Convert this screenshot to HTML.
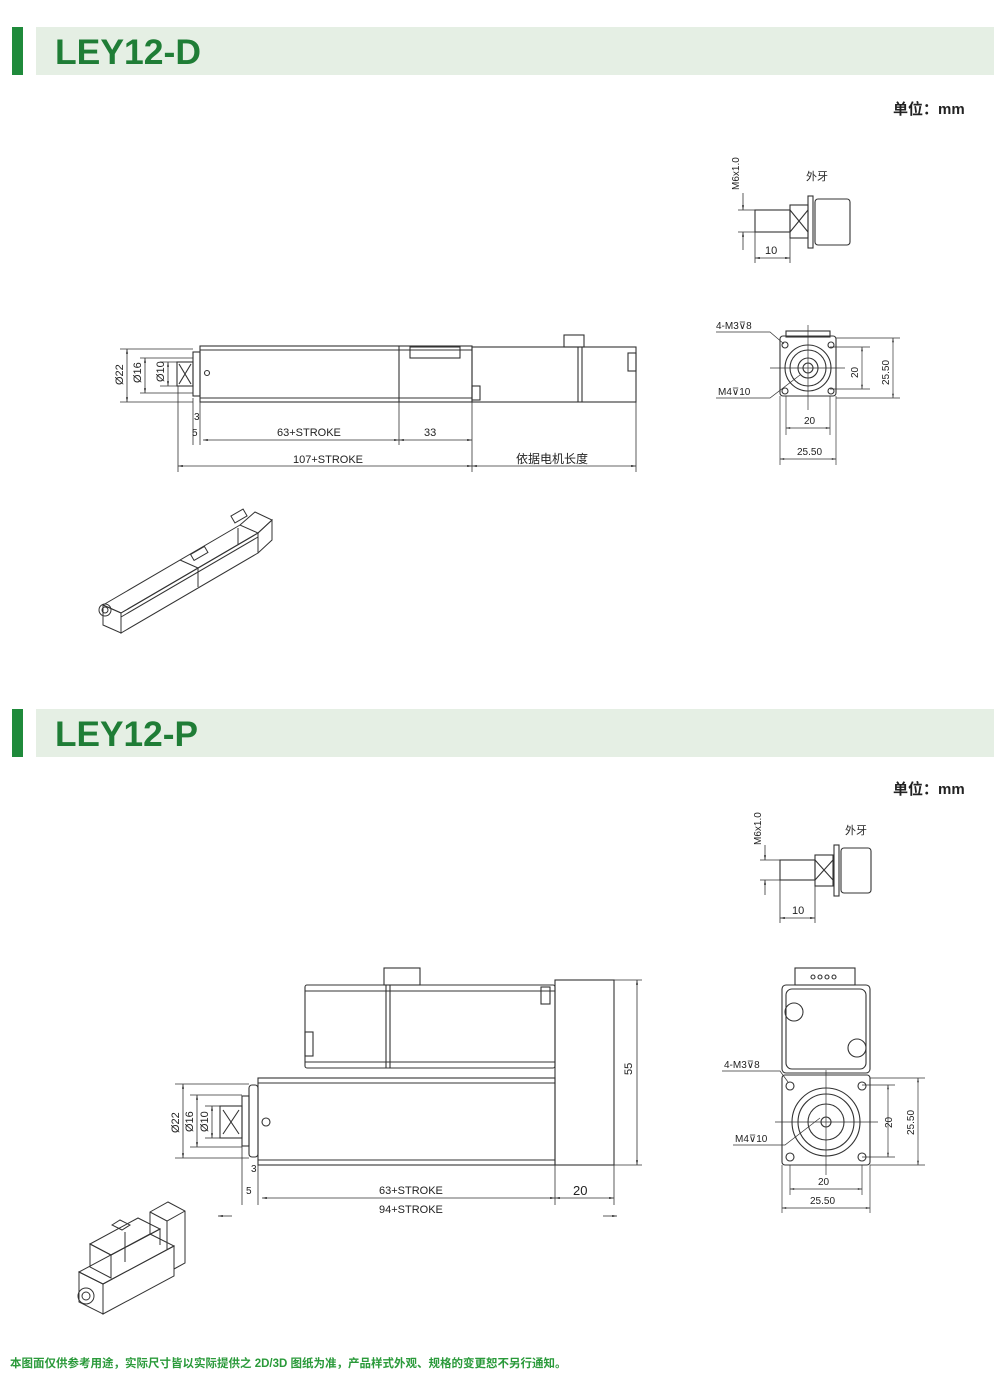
<!DOCTYPE html><html><head><meta charset="utf-8"><style>body{margin:0;background:#fff}svg{display:block}text{font-family:"Liberation Sans","Noto Sans CJK SC",sans-serif}</style></head><body>
<svg width="1000" height="1391" viewBox="0 0 1000 1391" xmlns="http://www.w3.org/2000/svg">
<defs><marker id="a" viewBox="0 0 10 10" refX="10" refY="5" markerWidth="8" markerHeight="6" orient="auto-start-reverse"><path d="M0,3L10,5L0,7z" fill="#222"/></marker></defs>
<rect x="12" y="27" width="11" height="48" fill="#1f8a3b"/><rect x="36" y="27" width="958" height="48" fill="#e5efe4"/>
<text x="55" y="64" font-size="35" font-weight="bold" fill="#1f7d36" textLength="146" lengthAdjust="spacingAndGlyphs">LEY12-D</text>
<rect x="12" y="709" width="11" height="48" fill="#1f8a3b"/><rect x="36" y="709" width="958" height="48" fill="#e5efe4"/>
<text x="55" y="746" font-size="35" font-weight="bold" fill="#1f7d36" textLength="143" lengthAdjust="spacingAndGlyphs">LEY12-P</text>
<text x="893" y="114" font-size="15" font-weight="bold" fill="#222">单位：mm</text>
<text x="893" y="794" font-size="15" font-weight="bold" fill="#222">单位：mm</text>
<text x="10" y="1367" font-size="11.5" font-weight="bold" fill="#2a9a3a">本图面仅供参考用途，实际尺寸皆以实际提供之 2D/3D 图纸为准，产品样式外观、规格的变更恕不另行通知。</text>
<g fill="none" stroke="#333" stroke-width="1.1" font-size="11">
<!-- D main -->
<rect x="200" y="346" width="272" height="56"/><line x1="200" y1="350" x2="472" y2="350"/><line x1="200" y1="398" x2="472" y2="398"/>
<line x1="399" y1="346" x2="399" y2="402"/><rect x="410" y="347" width="50" height="11"/><circle cx="207" cy="373" r="2.5"/>
<rect x="472" y="347" width="164" height="55"/><line x1="578" y1="347" x2="578" y2="402"/><line x1="582" y1="347" x2="582" y2="402"/>
<rect x="564" y="335" width="20" height="12"/><rect x="472" y="386" width="8" height="14"/><rect x="628" y="353" width="8" height="18"/>
<rect x="193" y="352" width="7" height="44"/><rect x="177" y="362" width="16" height="24"/><path d="M179,364L191,384M191,364L179,384"/>
<g stroke-width=".8"><line x1="120" y1="349" x2="193" y2="349"/><line x1="120" y1="402" x2="193" y2="402"/><line x1="140" y1="358" x2="193" y2="358"/><line x1="140" y1="393" x2="193" y2="393"/><line x1="160" y1="362" x2="177" y2="362"/><line x1="160" y1="386" x2="177" y2="386"/>
<line x1="127" y1="349" x2="127" y2="402" marker-start="url(#a)" marker-end="url(#a)"/><line x1="145" y1="358" x2="145" y2="393" marker-start="url(#a)" marker-end="url(#a)"/><line x1="168" y1="362" x2="168" y2="386" marker-start="url(#a)" marker-end="url(#a)"/>
<line x1="178" y1="386" x2="178" y2="472"/><line x1="193" y1="398" x2="193" y2="445"/><line x1="200" y1="402" x2="200" y2="445"/><line x1="399" y1="402" x2="399" y2="445"/><line x1="472" y1="402" x2="472" y2="472"/><line x1="636" y1="402" x2="636" y2="472"/>
<line x1="203" y1="440" x2="399" y2="440" marker-start="url(#a)" marker-end="url(#a)"/><line x1="399" y1="440" x2="472" y2="440" marker-start="url(#a)" marker-end="url(#a)"/>
<line x1="178" y1="466" x2="472" y2="466" marker-start="url(#a)" marker-end="url(#a)"/><line x1="472" y1="466" x2="636" y2="466" marker-start="url(#a)" marker-end="url(#a)"/></g>
<g fill="#222" stroke="none"><text x="277" y="436">63+STROKE</text><text x="424" y="436">33</text><text x="293" y="463">107+STROKE</text><text x="516" y="463" font-size="12">依据电机长度</text><text x="194" y="420" font-size="10">3</text><text x="192" y="436" font-size="10">5</text>
<text transform="translate(123,385) rotate(-90)">Ø22</text><text transform="translate(141,383) rotate(-90)">Ø16</text><text transform="translate(164,382) rotate(-90)">Ø10</text></g>
<!-- D detail -->
<rect x="755" y="210" width="35" height="22"/><rect x="790" y="205" width="18" height="33"/><path d="M790,210L808,232M808,210L790,232"/><rect x="808" y="196" width="5" height="52"/><rect x="815" y="199" width="35" height="46" rx="3"/>
<g stroke-width=".8"><line x1="738" y1="210" x2="755" y2="210"/><line x1="738" y1="232" x2="755" y2="232"/><line x1="743" y1="193" x2="743" y2="210" marker-end="url(#a)"/><line x1="743" y1="250" x2="743" y2="232" marker-end="url(#a)"/><line x1="755" y1="232" x2="755" y2="263"/><line x1="790" y1="238" x2="790" y2="263"/><line x1="755" y1="258" x2="790" y2="258" marker-start="url(#a)" marker-end="url(#a)"/></g>
<g fill="#222" stroke="none"><text transform="translate(739,190) rotate(-90)" font-size="10">M6x1.0</text><text x="806" y="180">外牙</text><text x="765" y="254">10</text></g>
<!-- D end -->
<rect x="786" y="331" width="44" height="6"/><rect x="780" y="336" width="56" height="60" rx="3"/><circle cx="808" cy="368" r="23"/><circle cx="808" cy="368" r="18"/><circle cx="808" cy="368" r="10"/><circle cx="808" cy="368" r="5"/>
<circle cx="785" cy="345" r="3"/><circle cx="831" cy="345" r="3"/><circle cx="785" cy="391" r="3"/><circle cx="831" cy="391" r="3"/>
<g stroke-width=".7"><line x1="808" y1="325" x2="808" y2="410"/><line x1="770" y1="368" x2="845" y2="368"/><line x1="830" y1="347" x2="870" y2="347"/><line x1="830" y1="389" x2="870" y2="389"/><line x1="836" y1="338" x2="900" y2="338"/><line x1="836" y1="398" x2="900" y2="398"/>
<line x1="862" y1="347" x2="862" y2="389" marker-start="url(#a)" marker-end="url(#a)"/><line x1="893" y1="338" x2="893" y2="398" marker-start="url(#a)" marker-end="url(#a)"/>
<line x1="786" y1="396" x2="786" y2="435"/><line x1="830" y1="396" x2="830" y2="435"/><line x1="780" y1="396" x2="780" y2="465"/><line x1="836" y1="396" x2="836" y2="465"/>
<line x1="786" y1="428" x2="830" y2="428" marker-start="url(#a)" marker-end="url(#a)"/><line x1="780" y1="459" x2="836" y2="459" marker-start="url(#a)" marker-end="url(#a)"/>
<path d="M716,332H770L784,344"/><path d="M716,398H770L800,375"/></g>
<g fill="#222" stroke="none" font-size="10"><text x="716" y="329">4-M3⊽8</text><text x="718" y="395">M4⊽10</text><text transform="translate(858,378) rotate(-90)">20</text><text transform="translate(889,385) rotate(-90)">25.50</text><text x="804" y="424">20</text><text x="797" y="455">25.50</text></g>
<!-- D iso -->
<g stroke-width="1"><path d="M103,605L240,525L258,533L121,613z"/><path d="M121,613L258,533L258,553L121,633z"/><path d="M103,605L121,613L121,633L103,625z"/><path d="M240,525L255,512L272,520L258,533"/><path d="M258,533L272,520L272,540L258,553"/><line x1="180" y1="560" x2="198" y2="568"/><line x1="198" y1="568" x2="198" y2="587"/><rect x="191" y="550" width="16" height="7" transform="rotate(-30 199 553)"/><rect x="232" y="512" width="14" height="8" transform="rotate(-30 239 516)"/><line x1="121" y1="617" x2="258" y2="537"/><line x1="238" y1="528" x2="238" y2="545"/><circle cx="105" cy="610" r="6"/><circle cx="105" cy="610" r="3"/></g>
<!-- P main -->
<rect x="305" y="985" width="250" height="83" rx="2"/><line x1="305" y1="991" x2="555" y2="991"/><line x1="305" y1="1062" x2="555" y2="1062"/><line x1="386" y1="985" x2="386" y2="1068"/><line x1="390" y1="985" x2="390" y2="1068"/>
<rect x="384" y="968" width="36" height="17"/><rect x="305" y="1032" width="8" height="24"/><rect x="541" y="987" width="9" height="17"/>
<rect x="555" y="980" width="59" height="185"/><rect x="258" y="1078" width="297" height="87"/><line x1="258" y1="1083" x2="555" y2="1083"/><line x1="258" y1="1160" x2="555" y2="1160"/><circle cx="266" cy="1122" r="4"/>
<rect x="249" y="1085" width="9" height="72" rx="3"/><rect x="242" y="1096" width="7" height="50"/><rect x="220" y="1106" width="22" height="32"/><path d="M223,1110L239,1134M239,1110L223,1134"/>
<g stroke-width=".8"><line x1="175" y1="1084" x2="249" y2="1084"/><line x1="175" y1="1158" x2="249" y2="1158"/><line x1="190" y1="1095" x2="242" y2="1095"/><line x1="190" y1="1147" x2="242" y2="1147"/><line x1="205" y1="1106" x2="220" y2="1106"/><line x1="205" y1="1138" x2="220" y2="1138"/>
<line x1="183" y1="1084" x2="183" y2="1158" marker-start="url(#a)" marker-end="url(#a)"/><line x1="197" y1="1095" x2="197" y2="1147" marker-start="url(#a)" marker-end="url(#a)"/><line x1="212" y1="1106" x2="212" y2="1138" marker-start="url(#a)" marker-end="url(#a)"/>
<line x1="614" y1="980" x2="642" y2="980"/><line x1="614" y1="1165" x2="642" y2="1165"/><line x1="637" y1="980" x2="637" y2="1165" marker-start="url(#a)" marker-end="url(#a)"/>
<line x1="242" y1="1146" x2="242" y2="1205"/><line x1="258" y1="1165" x2="258" y2="1205"/><line x1="555" y1="1165" x2="555" y2="1205"/><line x1="614" y1="1165" x2="614" y2="1205"/>
<line x1="262" y1="1198" x2="555" y2="1198" marker-start="url(#a)" marker-end="url(#a)"/><line x1="555" y1="1198" x2="614" y2="1198" marker-start="url(#a)" marker-end="url(#a)"/>
<line x1="218" y1="1216" x2="232" y2="1216" marker-start="url(#a)"/><line x1="603" y1="1216" x2="617" y2="1216" marker-end="url(#a)"/></g>
<g fill="#222" stroke="none"><text x="379" y="1194">63+STROKE</text><text x="573" y="1195" font-size="13">20</text><text x="379" y="1213">94+STROKE</text><text x="251" y="1172" font-size="10">3</text><text x="246" y="1194" font-size="10">5</text><text transform="translate(632,1075) rotate(-90)">55</text>
<text transform="translate(179,1133) rotate(-90)">Ø22</text><text transform="translate(193,1132) rotate(-90)">Ø16</text><text transform="translate(208,1132) rotate(-90)">Ø10</text></g>
<!-- P detail -->
<rect x="780" y="860" width="35" height="20"/><rect x="815" y="855" width="18" height="31"/><path d="M815,860L833,880M833,860L815,880"/><rect x="834" y="845" width="5" height="51"/><rect x="841" y="848" width="30" height="45" rx="3"/>
<g stroke-width=".8"><line x1="760" y1="860" x2="780" y2="860"/><line x1="760" y1="880" x2="780" y2="880"/><line x1="765" y1="845" x2="765" y2="860" marker-end="url(#a)"/><line x1="765" y1="895" x2="765" y2="880" marker-end="url(#a)"/><line x1="780" y1="880" x2="780" y2="923"/><line x1="815" y1="886" x2="815" y2="923"/><line x1="780" y1="918" x2="815" y2="918" marker-start="url(#a)" marker-end="url(#a)"/></g>
<g fill="#222" stroke="none"><text transform="translate(761,845) rotate(-90)" font-size="10">M6x1.0</text><text x="845" y="834">外牙</text><text x="792" y="914">10</text></g>
<!-- P end -->
<rect x="795" y="968" width="60" height="17"/><circle cx="813" cy="977" r="2"/><circle cx="820" cy="977" r="2"/><circle cx="827" cy="977" r="2"/><circle cx="834" cy="977" r="2"/>
<rect x="782" y="985" width="88" height="88" rx="4"/><rect x="786" y="989" width="80" height="80" rx="6"/><circle cx="794" cy="1012" r="9"/><circle cx="857" cy="1048" r="9"/>
<rect x="782" y="1075" width="88" height="90" rx="3"/><circle cx="826" cy="1122" r="34"/><circle cx="826" cy="1122" r="28"/><circle cx="826" cy="1122" r="18"/><circle cx="826" cy="1122" r="5"/>
<circle cx="790" cy="1086" r="4"/><circle cx="862" cy="1086" r="4"/><circle cx="790" cy="1157" r="4"/><circle cx="862" cy="1157" r="4"/>
<g stroke-width=".7"><line x1="826" y1="1070" x2="826" y2="1175"/><line x1="775" y1="1122" x2="878" y2="1122"/><line x1="862" y1="1085" x2="895" y2="1085"/><line x1="862" y1="1157" x2="895" y2="1157"/><line x1="870" y1="1078" x2="925" y2="1078"/><line x1="870" y1="1165" x2="925" y2="1165"/>
<line x1="888" y1="1085" x2="888" y2="1157" marker-start="url(#a)" marker-end="url(#a)"/><line x1="918" y1="1078" x2="918" y2="1165" marker-start="url(#a)" marker-end="url(#a)"/>
<line x1="790" y1="1165" x2="790" y2="1195"/><line x1="862" y1="1165" x2="862" y2="1195"/><line x1="782" y1="1165" x2="782" y2="1213"/><line x1="870" y1="1165" x2="870" y2="1213"/>
<line x1="790" y1="1189" x2="862" y2="1189" marker-start="url(#a)" marker-end="url(#a)"/><line x1="782" y1="1208" x2="870" y2="1208" marker-start="url(#a)" marker-end="url(#a)"/>
<path d="M722,1071H780L788,1082"/><path d="M733,1145H785L820,1118"/></g>
<g fill="#222" stroke="none" font-size="10"><text x="724" y="1068">4-M3⊽8</text><text x="735" y="1142">M4⊽10</text><text transform="translate(892,1128) rotate(-90)">20</text><text transform="translate(914,1135) rotate(-90)">25.50</text><text x="818" y="1185">20</text><text x="810" y="1204">25.50</text></g>
<!-- P iso -->
<g stroke-width="1">
<path d="M79,1272L150,1234L174,1246L103,1284z"/><path d="M103,1284L174,1246L174,1276L103,1314z"/><path d="M79,1272L103,1284L103,1314L79,1302z"/>
<path d="M150,1234L150,1212L168,1202L185,1211L185,1263L174,1269"/><path d="M150,1212L167,1221L185,1211M167,1221L167,1250"/>
<path d="M90,1244L138,1218L160,1229L111,1255z"/><path d="M90,1244L111,1255L111,1278L90,1267z"/><path d="M111,1255L160,1229L160,1245"/><line x1="125" y1="1232" x2="125" y2="1262"/>
<path d="M112,1225L120,1220L130,1225L122,1230z"/>
<circle cx="86" cy="1296" r="8"/><circle cx="86" cy="1296" r="4"/></g>
</g>
</svg></body></html>
